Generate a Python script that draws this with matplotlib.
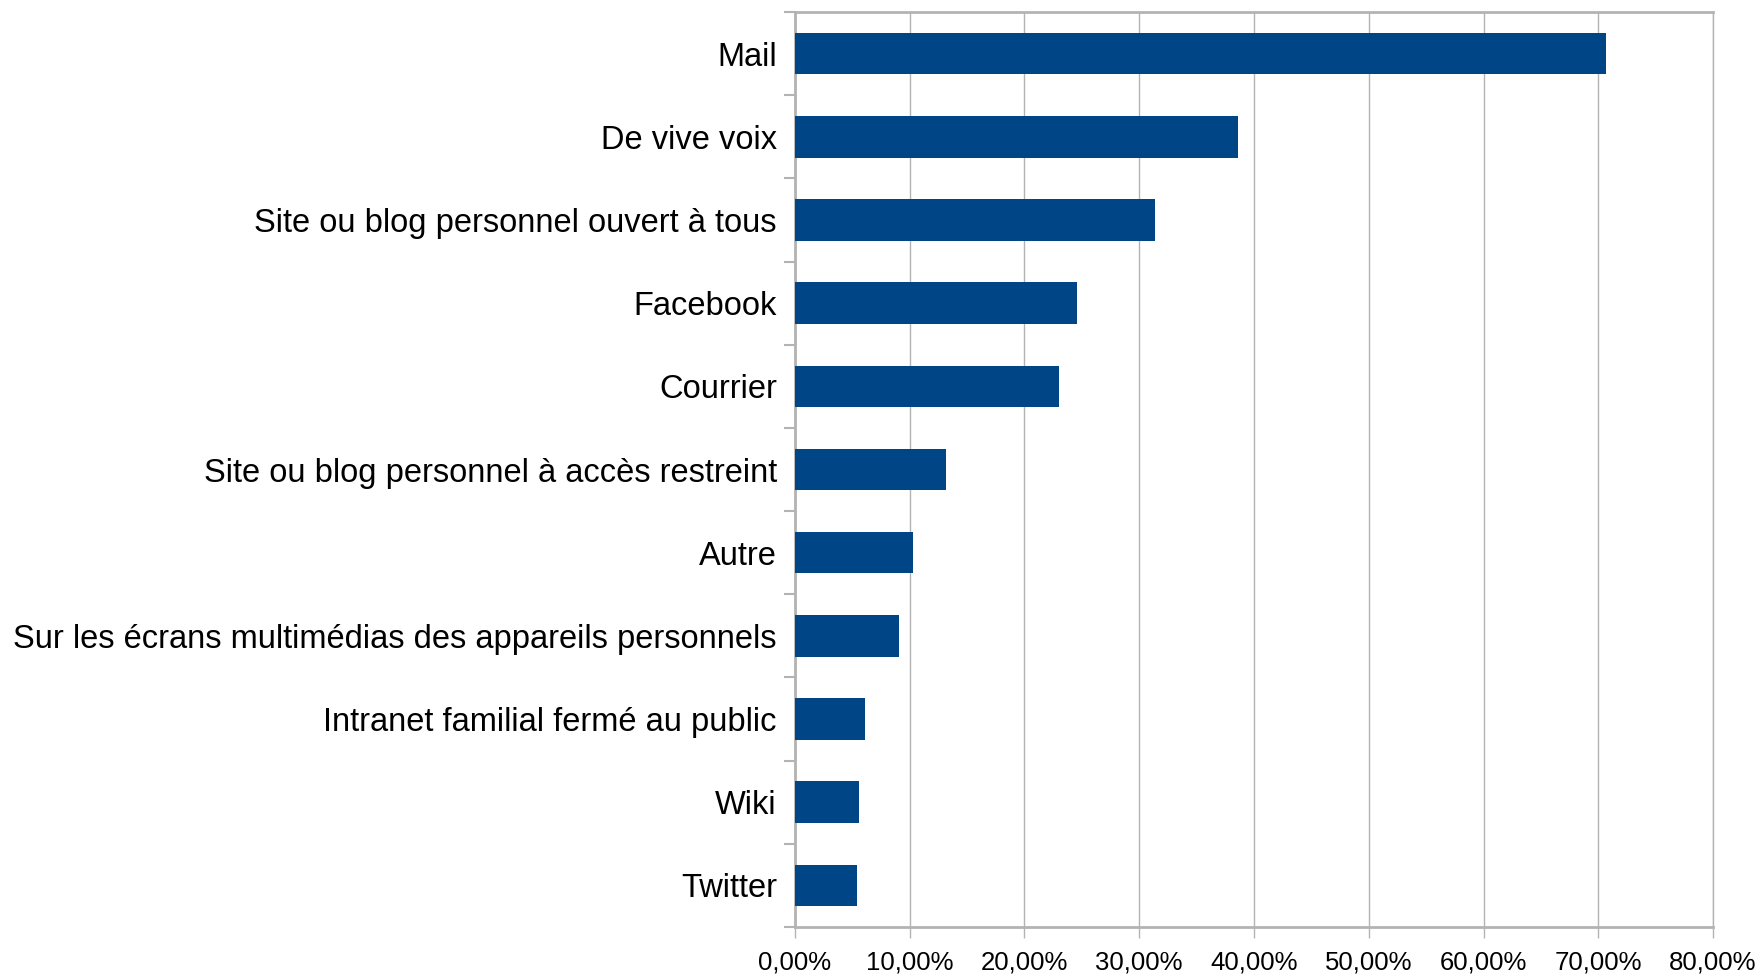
import numpy as np
import matplotlib
matplotlib.use("Agg")
import matplotlib.pyplot as plt
from matplotlib.ticker import FixedLocator, FuncFormatter

# canaux de partage, du plus utilisé au moins utilisé
categories = ["Mail", "De vive voix", "Site ou blog personnel ouvert à tous",
              "Facebook", "Courrier", "Site ou blog personnel à accès restreint",
              "Autre", "Sur les écrans multimédias des appareils personnels",
              "Intranet familial fermé au public", "Wiki", "Twitter"]
values = [70.7, 38.6, 31.4, 24.6, 23.0, 13.2, 10.25, 9.04, 6.08, 5.55, 5.37]
x_ticks = [0, 10, 20, 30, 40, 50, 60, 70, 80]

plt.rcParams['font.family'] = ['Liberation Sans', 'DejaVu Sans']

fig = plt.figure(figsize=(17.6, 9.75), dpi=100)
ax = fig.add_axes([0.4517, 0.0492, 0.9733 - 0.4517, 0.9877 - 0.0492])

grey = "#b3b3b3"
pos = np.arange(len(categories))
ax.barh(pos, values, height=0.5, color="#004586", zorder=3)

ax.set_ylim(len(categories) - 0.5, -0.5)
ax.set_xlim(0, 80)

ax.xaxis.set_major_locator(FixedLocator(x_ticks))
ax.xaxis.set_major_formatter(FuncFormatter(lambda v, p: f"{v:.2f}%".replace(".", ",")))
ax.grid(axis="x", color=grey, linewidth=1, zorder=0)

ax.set_yticks(pos)
ax.set_yticklabels(categories, fontsize=23.5)
ax.yaxis.set_minor_locator(FixedLocator(np.arange(len(categories) + 1) - 0.5))
ax.tick_params(axis="y", which="major", length=0, pad=13)
ax.tick_params(axis="y", which="minor", length=8, width=1.5, color=grey)
ax.tick_params(axis="x", length=8, width=1, color=grey, labelsize=18.5, pad=9)

for side in ["left", "bottom", "top"]:
    ax.spines[side].set_color(grey)
    ax.spines[side].set_linewidth(2)
ax.spines["right"].set_color(grey)
ax.spines["right"].set_linewidth(1)

fig.savefig("out.png", dpi=100)
